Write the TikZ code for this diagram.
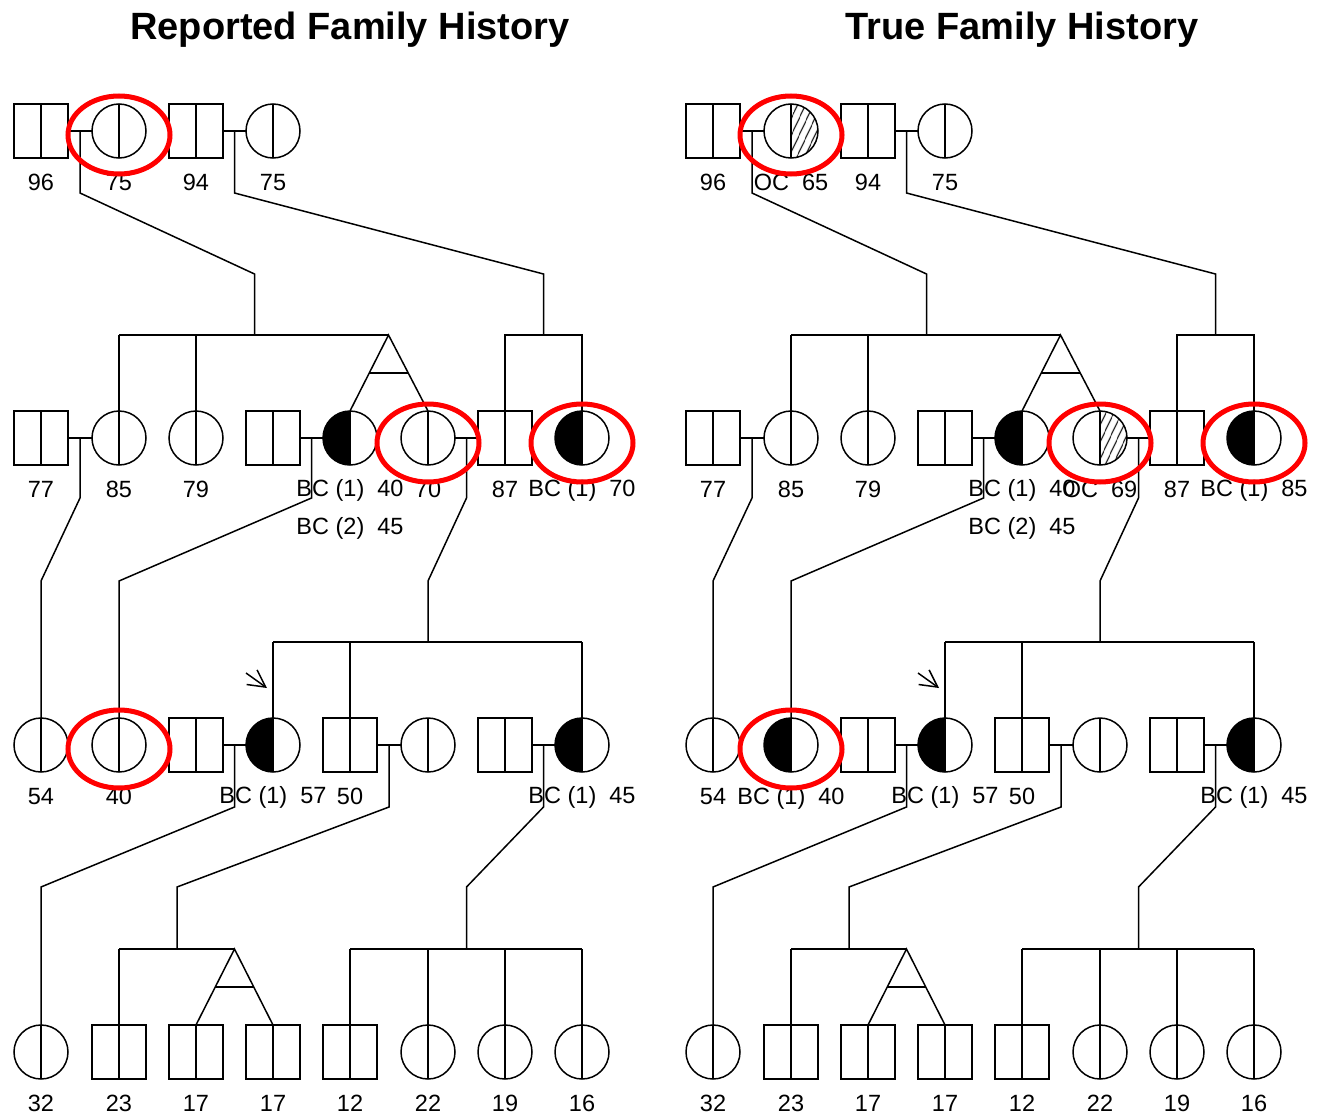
\documentclass[tikz,border=0pt]{standalone}
\usepackage{fontspec}
\setmainfont{Liberation Sans}
\usetikzlibrary{calc,arrows.meta,patterns.meta}

\tikzset{
 sym/.style={draw, line width=1.5pt, minimum size=54pt, inner sep=0pt, outer sep=0pt},
 male/.style={sym, rectangle, path picture={\draw[line width=1.5pt] (path picture bounding box.north) -- (path picture bounding box.south);}},
 fem/.style={sym, circle, path picture={\draw[line width=1.5pt] (path picture bounding box.north) -- (path picture bounding box.south);}},
 femaff/.style={sym, circle, path picture={\fill[black] (path picture bounding box.south west) rectangle (path picture bounding box.north); \draw[line width=1.5pt] (path picture bounding box.north) -- (path picture bounding box.south);}},
 femoc/.style={sym, circle, path picture={\fill[pattern={Lines[angle=65,distance=6.5pt,line width=1.1pt]}] (path picture bounding box.south) rectangle (path picture bounding box.north east); \draw[line width=1.5pt] (path picture bounding box.north) -- (path picture bounding box.south);}},
 lbl/.style={anchor=base, inner sep=0pt, font=\fontsize{23.5}{28}\selectfont},
 conn/.style={line width=1.5pt},
 ring/.style={draw=red, line width=5pt},
 proband/.style={line width=1.5pt, -{Straight Barb[length=17pt,width=18pt]}},
 ttl/.style={anchor=base, inner sep=0pt, font=\bfseries\fontsize{38}{44}\selectfont},
}

\newcommand\pedigree[9]{%
\begin{scope}[xshift=#2]
% row 1
\node[male] (#1a1) at (41,131) {};
\node[#3] (#1a2) at (119,131) {};
\node[male] (#1a3) at (196,131) {};
\node[fem] (#1a4) at (273,131) {};
% row 2
\node[male] (#1b1) at (41,438) {};
\node[fem] (#1b2) at (119,438) {};
\node[fem] (#1b3) at (196,438) {};
\node[male] (#1b4) at (273,438) {};
\node[femaff] (#1b5) at (350,438) {};
\node[#4] (#1b6) at (428,438) {};
\node[male] (#1b7) at (505,438) {};
\node[femaff] (#1b8) at (582,438) {};
% row 3
\node[fem] (#1c1) at (41,745) {};
\node[#5] (#1c2) at (119,745) {};
\node[male] (#1c3) at (196,745) {};
\node[femaff] (#1c4) at (273,745) {};
\node[male] (#1c5) at (350,745) {};
\node[fem] (#1c6) at (428,745) {};
\node[male] (#1c7) at (505,745) {};
\node[femaff] (#1c8) at (582,745) {};
% row 4
\node[fem] (#1d1) at (41,1052) {};
\node[male] (#1d2) at (119,1052) {};
\node[male] (#1d3) at (196,1052) {};
\node[male] (#1d4) at (273,1052) {};
\node[male] (#1d5) at (350,1052) {};
\node[fem] (#1d6) at (428,1052) {};
\node[fem] (#1d7) at (505,1052) {};
\node[fem] (#1d8) at (582,1052) {};
% generation 1 -> 2
\draw[conn] (#1a1.east) -- (#1a2.west);
\draw[conn] (#1a3.east) -- (#1a4.west);
\coordinate (#1m1) at ($(#1a1.east)!.5!(#1a2.west)$);
\coordinate (#1m2) at ($(#1a3.east)!.5!(#1a4.west)$);
\draw[conn] (#1m1) -- ++(0,62) -- (254.5,274) -- (254.5,335);
\draw[conn] (119,335) -- (388.5,335);
\draw[conn] (119,335) -- (#1b2.north);
\draw[conn] (196,335) -- (#1b3.north);
\draw[conn] (#1b5.north) -- (388.5,335) -- (#1b6.north);
\draw[conn] ($(#1b5.north)!.5!(388.5,335)$) -- ($(#1b6.north)!.5!(388.5,335)$);
\draw[conn] (#1m2) -- ++(0,62) -- (543.5,274) -- (543.5,335);
\draw[conn] (#1b7.north) -- (505,335) -- (582,335) -- (#1b8.north);
% generation 2 -> 3
\draw[conn] (#1b1.east) -- (#1b2.west);
\draw[conn] (#1b4.east) -- (#1b5.west);
\draw[conn] (#1b6.east) -- (#1b7.west);
\coordinate (#1m3) at ($(#1b1.east)!.5!(#1b2.west)$);
\coordinate (#1m4) at ($(#1b4.east)!.5!(#1b5.west)$);
\coordinate (#1m5) at ($(#1b6.east)!.5!(#1b7.west)$);
\draw[conn] (#1m3) -- ++(0,60) -- (41,581) -- (#1c1.north);
\draw[conn] (#1m4) -- ++(0,60) -- (119,581) -- (#1c2.north);
\draw[conn] (#1m5) -- ++(0,60) -- (428,581) -- (428,642);
\draw[conn] (273,642) -- (582,642);
\draw[conn] (273,642) -- (#1c4.north);
\draw[conn] (350,642) -- (#1c5.north);
\draw[conn] (582,642) -- (#1c8.north);
% generation 3 -> 4
\draw[conn] (#1c3.east) -- (#1c4.west);
\draw[conn] (#1c5.east) -- (#1c6.west);
\draw[conn] (#1c7.east) -- (#1c8.west);
\coordinate (#1m6) at ($(#1c3.east)!.5!(#1c4.west)$);
\coordinate (#1m7) at ($(#1c5.east)!.5!(#1c6.west)$);
\coordinate (#1m8) at ($(#1c7.east)!.5!(#1c8.west)$);
\draw[conn] (#1m6) -- ++(0,62) -- (41,887) -- (#1d1.north);
\draw[conn] (#1m7) -- ++(0,62) -- (177,887) -- (177,949);
\draw[conn] (119,949) -- (234.5,949);
\draw[conn] (119,949) -- (#1d2.north);
\draw[conn] (#1d3.north) -- (234.5,949) -- (#1d4.north);
\draw[conn] ($(#1d3.north)!.5!(234.5,949)$) -- ($(#1d4.north)!.5!(234.5,949)$);
\draw[conn] (#1m8) -- ++(0,62) -- (466.5,887) -- (466.5,949);
\draw[conn] (350,949) -- (582,949);
\draw[conn] (350,949) -- (#1d5.north);
\draw[conn] (428,949) -- (#1d6.north);
\draw[conn] (505,949) -- (#1d7.north);
\draw[conn] (582,949) -- (#1d8.north);
% proband
\draw[proband] ($(#1c4.north)+(-27,-45)$) -- ($(#1c4.north)+(-6,-30)$);
% labels
\node[lbl] (#1la1) at (41,190) {96};
\node[lbl] (#1la2) at (119,190) {#6};
\node[lbl] (#1la3) at (196,190) {94};
\node[lbl] (#1la4) at (273,190) {75};
\node[lbl] (#1lb1) at (41,497) {77};
\node[lbl] (#1lb2) at (119,497) {85};
\node[lbl] (#1lb3) at (196,497) {79};
\node[lbl] (#1lb5) at (350,496) {BC (1)~~40};
\node[lbl] (#1lb5b) at (350,534) {BC (2)~~45};
\node[lbl] (#1lb6) at (428,497) {#7};
\node[lbl] (#1lb7) at (505,497) {87};
\node[lbl] (#1lb8) at (582,496) {BC (1)~~#8};
\node[lbl] (#1lc1) at (41,804) {54};
\node[lbl] (#1lc2) at (119,804) {#9};
\node[lbl] (#1lc4) at (273,803) {BC (1)~~57};
\node[lbl] (#1lc5) at (350,804) {50};
\node[lbl] (#1lc8) at (582,803) {BC (1)~~45};
\node[lbl] (#1ld1) at (41,1111) {32};
\node[lbl] (#1ld2) at (119,1111) {23};
\node[lbl] (#1ld3) at (196,1111) {17};
\node[lbl] (#1ld4) at (273,1111) {17};
\node[lbl] (#1ld5) at (350,1111) {12};
\node[lbl] (#1ld6) at (428,1111) {22};
\node[lbl] (#1ld7) at (505,1111) {19};
\node[lbl] (#1ld8) at (582,1111) {16};
% highlight rings
\draw[ring] ($(#1a2)+(0,4)$) ellipse [x radius=51pt, y radius=39pt];
\draw[ring] ($(#1b6)+(0,5)$) ellipse [x radius=51pt, y radius=39pt];
\draw[ring] ($(#1b8)+(0,5)$) ellipse [x radius=51pt, y radius=39pt];
\draw[ring] ($(#1c2)+(0,4)$) ellipse [x radius=51pt, y radius=39pt];
\end{scope}}

\begin{document}
\begin{tikzpicture}[x=1pt,y=-1pt]
\fill[white] (0,0) rectangle (1322,1116);
\useasboundingbox (0,0) rectangle (1322,1116);
\node[ttl] (tL) at (350,40) {Reported Family History};
\node[ttl] (tR) at (1022,40) {True Family History};
\pedigree{L}{0pt}{fem}{fem}{fem}{75}{70}{70}{40}
\pedigree{R}{672pt}{femoc}{femoc}{femaff}{OC~~65}{OC~~69}{85}{BC (1)~~40}
\end{tikzpicture}
\end{document}
